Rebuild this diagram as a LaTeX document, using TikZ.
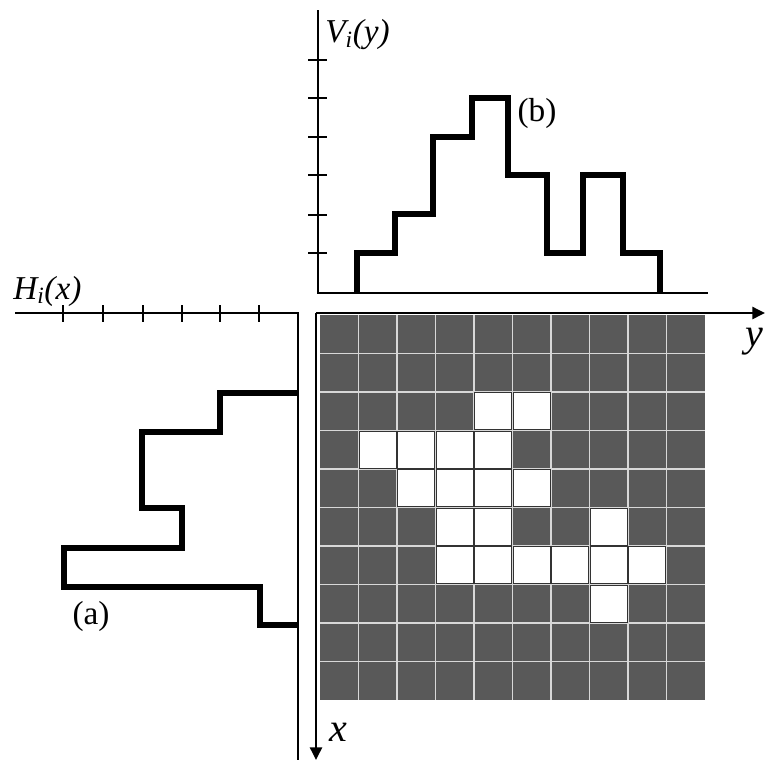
\documentclass[tikz,border=0pt]{standalone}
\usepackage{fontspec}
\setmainfont{Liberation Serif}
\usetikzlibrary{arrows.meta}
\definecolor{cellgray}{HTML}{595959}
\definecolor{gridgray}{HTML}{D8D8D8}
\begin{document}
\begin{tikzpicture}[x=0.75pt,y=-0.75pt,
  axisline/.style={line width=1.8pt},
  tickline/.style={line width=1.6pt},
  histline/.style={line width=4pt, line join=miter},
  gridl/.style={draw=gridgray, line width=1.3pt},
  cellw/.style={fill=white, draw=black!80, line width=0.8pt},
  arr/.style={-{Triangle[length=9.5pt,width=9pt]}},
  lblup/.style={inner sep=0pt, font=\fontsize{25}{28}\selectfont},
  lblit/.style={inner sep=0pt, font=\fontsize{25}{28}\selectfont\itshape},
  lblax/.style={inner sep=0pt, font=\fontsize{30}{34}\selectfont\itshape}]
\useasboundingbox (0,0) rectangle (766,760);
% image grid
\fill[cellgray] (320,315) rectangle (705,700);
\foreach \i in {1,...,9} {
  \draw[gridl] (320+38.5*\i,315) -- (320+38.5*\i,700);
  \draw[gridl] (320,315+38.5*\i) -- (705,315+38.5*\i);
}
\foreach \r/\c in {2/4,2/5,3/1,3/2,3/3,3/4,4/2,4/3,4/4,4/5,5/3,5/4,5/7,6/3,6/4,6/5,6/6,6/7,6/8,7/7}
  \draw[cellw] (320.8+38.5*\c,315.8+38.5*\r) rectangle ++(36.9,36.9);
% main axes
\coordinate (O) at (316,313);
\coordinate (Yend) at (765,313);
\coordinate (Xend) at (316,760);
\draw[axisline,arr] (O) -- (Yend);
\draw[axisline,arr] (O) -- (Xend);
\node[lblax,anchor=east] (ylab) at (764,342) {y};
\node[lblax] (xlab) at (338,732) {x};
% top histogram V
\coordinate (Vtop) at (318,10);
\coordinate (Vo) at (318,293);
\coordinate (Vend) at (708,293);
\draw[axisline] (Vtop) -- (Vo) -- (Vend);
\foreach \y in {60,98,137,175,215,253}
  \draw[tickline] (308,\y) -- (327,\y);
\draw[histline] (357,293) -- (357,253) -- (395,253) -- (395,214) -- (433,214) -- (433,137) -- (472,137) -- (472,98) -- (508,98) -- (508,175) -- (547,175) -- (547,253) -- (583,253) -- (583,175) -- (623,175) -- (623,253) -- (660,253) -- (660,293);
\node[lblit,anchor=west] (Vlab) at (325,35) {V\textsubscript{i}(y)};
\node[lblup] (blab) at (537,113) {(b)};
% left histogram H
\coordinate (Hend) at (15,313);
\coordinate (Ho) at (298,313);
\coordinate (Hbot) at (298,760);
\draw[axisline] (Hend) -- (Ho) -- (Hbot);
\foreach \x in {63,103,143,182,220,259}
  \draw[tickline] (\x,305) -- (\x,322);
\draw[histline] (298,393) -- (220,393) -- (220,432) -- (142,432) -- (142,508) -- (182,508) -- (182,548) -- (64,548) -- (64,587) -- (260,587) -- (260,625) -- (298,625);
\node[lblit,anchor=west] (Hlab) at (13,291) {H\textsubscript{i}(x)};
\node[lblup] (alab) at (91,616) {(a)};
\end{tikzpicture}
\end{document}
